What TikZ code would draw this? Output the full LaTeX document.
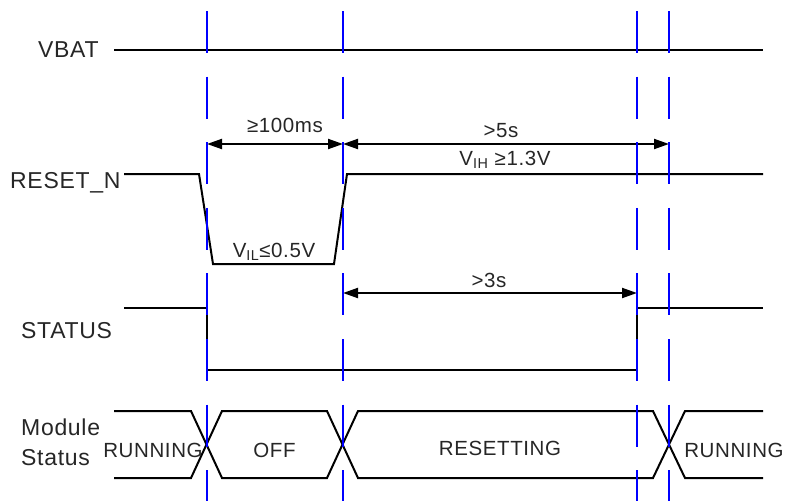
\documentclass[tikz,border=0pt]{standalone}
\usepackage{fontspec}
\setmainfont{Liberation Sans}[LetterSpace=3]
\usetikzlibrary{arrows.meta}
\begin{document}
\begin{tikzpicture}[x=1pt,y=-1pt,
  sig/.style={line width=2pt, line join=miter},
  guide/.style={color={rgb,255:red,0;green,0;blue,255}, line width=2pt, dash pattern=on 42pt off 23.6pt},
  dim/.style={line width=2pt, {Triangle[length=15pt,width=10pt]}-{Triangle[length=15pt,width=10pt]}},
  signame/.style={font=\fontsize{23}{27}\selectfont, inner sep=0pt, text=black!85},
  lbl/.style={font=\fontsize{20.5}{24}\selectfont, inner sep=0pt, text=black!85}]
\useasboundingbox (0,0) rectangle (785,501);

% signal names
\node[signame, anchor=base west] (vbat) at (38,57) {VBAT};
\node[signame, anchor=base west] (reset) at (10,188) {RESET\_N};
\node[signame, anchor=base west] (status) at (21,338) {STATUS};
\node[signame, anchor=base west] (mod1) at (21,435) {Module};
\node[signame, anchor=base west] (mod2) at (21,465) {Status};

% waveforms
\draw[sig] (114,50) -- (763,50);
\draw[sig] (124,174) -- (199,174) -- (213,264) -- (334,264) -- (347,174) -- (763,174);
\draw[sig] (124,308) -- (207,308) -- (207,370) -- (637,370) -- (637,308) -- (763,308);
\draw[sig] (114,411) -- (191,411) -- (222,478) -- (327,478) -- (358,411) -- (653,411) -- (685,478) -- (763,478);
\draw[sig] (114,478) -- (191,478) -- (222,411) -- (327,411) -- (358,478) -- (653,478) -- (685,411) -- (763,411);

% dimension arrows
\coordinate (d1a) at (207,144);
\coordinate (d1b) at (343,144);
\coordinate (d2b) at (669,144);
\coordinate (d3a) at (343,293);
\coordinate (d3b) at (637,293);
\draw[dim] (d1a) -- (d1b);
\draw[dim] (d1b) -- (d2b);
\draw[dim] (d3a) -- (d3b);

% labels
\node[lbl, anchor=base] (l100) at (285,132) {≥100ms};
\node[lbl, anchor=base] (l5s) at (501,137) {>5s};
\node[lbl, anchor=base] (lvih) at (505,165) {V\textsubscript{IH} ≥1.3V};
\node[lbl, anchor=base] (lvil) at (274,257) {V\textsubscript{IL}≤0.5V};
\node[lbl, anchor=base] (l3s) at (489,287) {>3s};
\node[lbl, anchor=base] (run1) at (153,457) {RUNNING};
\node[lbl, anchor=base] (off) at (274.5,457) {OFF};
\node[lbl, anchor=base] (rst) at (500,455) {RESETTING};
\node[lbl, anchor=base] (run2) at (734,457) {RUNNING};

% guide lines
\foreach \x/\n in {207/a,343/b,637/c,669/d} {
  \coordinate (gt\n) at (\x,11);
  \coordinate (gb\n) at (\x,501);
  \draw[guide] (gt\n) -- (gb\n);
}
\end{tikzpicture}
\end{document}
